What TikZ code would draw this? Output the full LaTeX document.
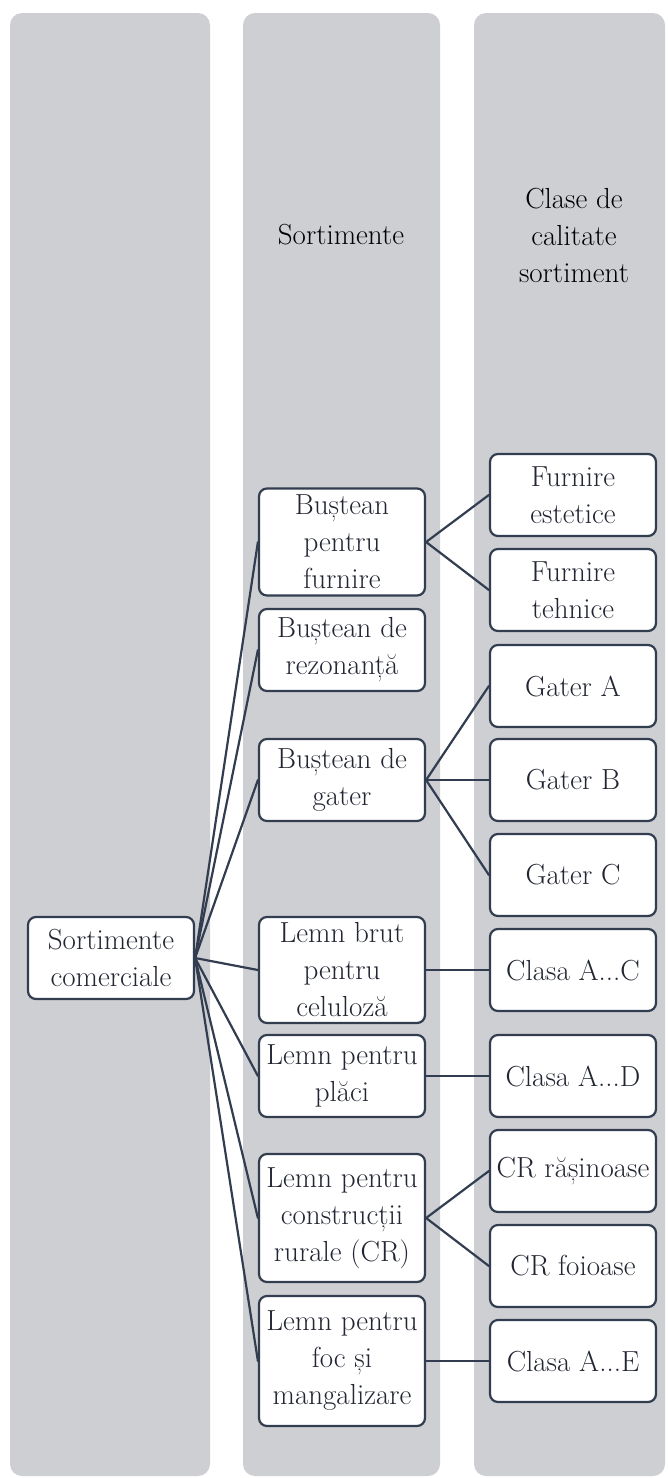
\documentclass[tikz,border=0pt]{standalone}
\usepackage{fontspec}
\usepackage{tikz}
\definecolor{colgray}{RGB}{206,207,211}
\definecolor{boxline}{RGB}{50,62,80}
\definecolor{textdark}{RGB}{34,38,50}

\begin{document}
\begin{tikzpicture}[line cap=round, line join=round, x=1pt, y=-1pt,
    font=\fontsize{29}{37}\selectfont,
    column/.style={fill=colgray, rounded corners=12pt},
    item/.style={draw=boxline, line width=2.2pt, fill=white, rounded corners=8pt, text=textdark,
        align=center, minimum width=166pt, minimum height=82pt, inner sep=1pt},
    link/.style={draw=boxline, line width=2.2pt}]

                \useasboundingbox (0,0) rectangle (667,1478);

                % background columns
                \fill[column] (10,13) rectangle (210,1476);
                \fill[column] (243,13) rectangle (440,1476);
                \fill[column] (474,13) rectangle (665,1476);

                \node[align=center] (hsort) at (341,235) {Sortimente};
                \node[align=center] (hclass) at (574,235) {Clase de\\calitate\\sortiment};

                \node[item] (root) at (111,958) {Sortimente\\comerciale};

                \node[item, minimum height=107pt] (furn) at (342,542) {Buștean\\pentru\\furnire};
                \node[item] (rez) at (342,650) {Buștean de\\rezonanță};
                \node[item] (gater) at (342,780) {Buștean de\\gater};
                \node[item, minimum height=106pt] (cel) at (342,970) {Lemn brut\\pentru\\celuloză};
                \node[item] (placi) at (342,1076) {Lemn pentru\\plăci};
                \node[item, minimum height=128pt] (rural) at (342,1218) {Lemn pentru\\construcții\\rurale (CR)};
                \node[item, minimum height=130pt] (foc) at (342,1361) {Lemn pentru\\foc și\\mangalizare};

                \node[item] (estet) at (573,495) {Furnire\\estetice};
                \node[item] (tehn) at (573,590) {Furnire\\tehnice};
                \node[item] (gatA) at (573,686) {Gater A};
                \node[item] (gatB) at (573,780) {Gater B};
                \node[item] (gatC) at (573,875) {Gater C};
                \node[item] (clsC) at (573,970) {Clasa A...C};
                \node[item] (clsD) at (573,1076) {Clasa A...D};
                \node[item] (crras) at (573,1171) {CR rășinoase};
                \node[item] (crfoi) at (573,1266) {CR foioase};
                \node[item] (clsE) at (573,1361) {Clasa A...E};

                % root to sortimente
                \draw[link] (root.east) -- (furn.west);
                \draw[link] (root.east) -- (rez.west);
                \draw[link] (root.east) -- (gater.west);
                \draw[link] (root.east) -- (cel.west);
                \draw[link] (root.east) -- (placi.west);
                \draw[link] (root.east) -- (rural.west);
                \draw[link] (root.east) -- (foc.west);

                % sortimente to clase
                \draw[link] (furn.east) -- (estet.west);
                \draw[link] (furn.east) -- (tehn.west);
                \draw[link] (gater.east) -- (gatA.west);
                \draw[link] (gater.east) -- (gatB.west);
                \draw[link] (gater.east) -- (gatC.west);
                \draw[link] (cel.east) -- (clsC.west);
                \draw[link] (placi.east) -- (clsD.west);
                \draw[link] (rural.east) -- (crras.west);
                \draw[link] (rural.east) -- (crfoi.west);
                \draw[link] (foc.east) -- (clsE.west);

            \end{tikzpicture}
\end{document}
